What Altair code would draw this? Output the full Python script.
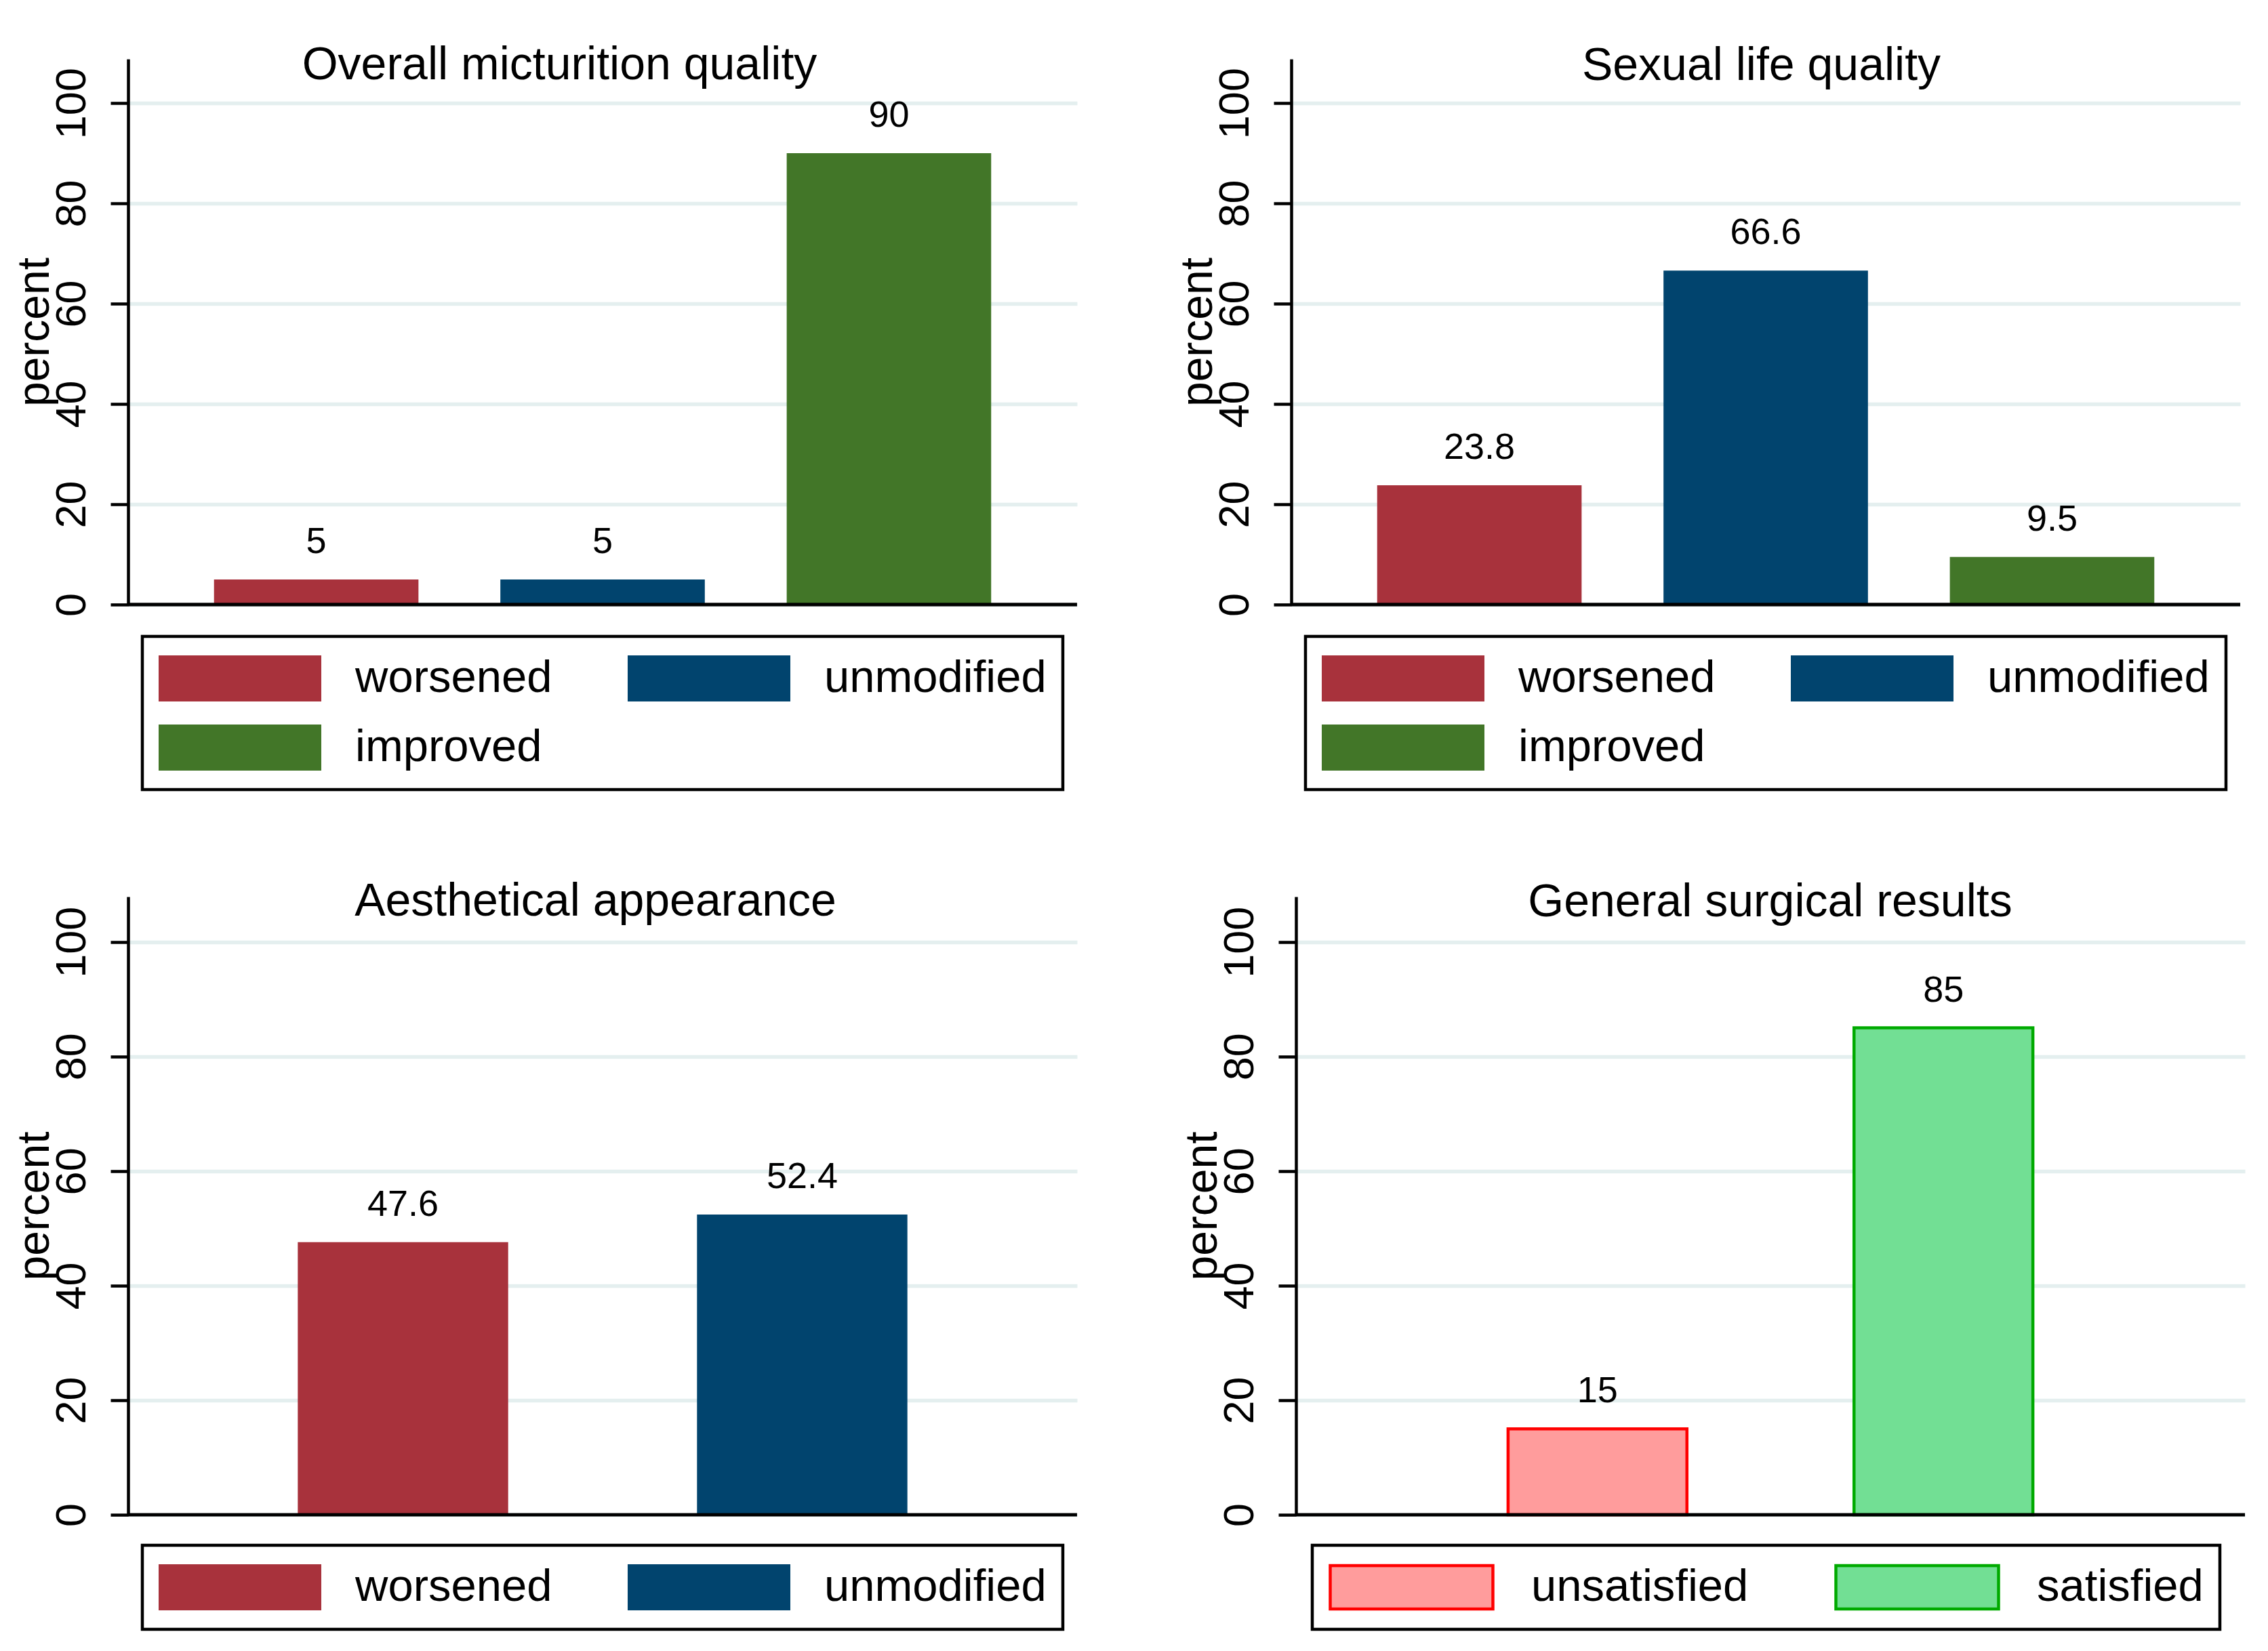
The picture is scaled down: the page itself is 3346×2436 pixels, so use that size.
import altair as alt
import pandas as pd

# ---------------- data ----------------
titles = ["Overall micturition quality", "Sexual life quality",
          "Aesthetical appearance", "General surgical results"]
change3 = ["worsened", "unmodified", "improved"]
micturition_pct = [5, 5, 90]
sexual_pct = [23.8, 66.6, 9.5]
change2 = ["worsened", "unmodified"]
aesthetic_pct = [47.6, 52.4]
satisfaction = ["unsatisfied", "satisfied"]
surgical_pct = [15, 85]
y_ticks = [0, 20, 40, 60, 80, 100]

change_colors = ["#A8323C", "#01446E", "#427628"]
sat_fill = ["#FF9C9C", "#72DF94"]
sat_stroke = ["#FF0000", "#00AA00"]

FONT = "Liberation Sans, Arial, Helvetica, sans-serif"
PLOT_W = 1400
LINE_W = 4.5


def panel(title, cats, vals, fills, strokes=None, *, pin, pout, ymax, h,
          title_dx, title_y, legend_x, legend_y, col_pad, label_offset, sym_r):
    df = pd.DataFrame({"category": cats, "percent": vals,
                       "label": [f"{v:g}" for v in vals]})
    x = alt.X("category:N", sort=cats, title=title,
              scale=alt.Scale(paddingInner=pin, paddingOuter=pout),
              axis=alt.Axis(orient="top", labels=False, ticks=False, grid=False,
                            domain=False, titleFont=FONT, titleFontSize=68,
                            titleFontWeight="normal", titleColor="black",
                            titleAlign="center", titleBaseline="alphabetic",
                            titleX=PLOT_W / 2 + title_dx, titleY=title_y))
    y = alt.Y("percent:Q", title="percent",
              scale=alt.Scale(domain=[0, ymax], nice=False, zero=True),
              axis=alt.Axis(values=y_ticks))
    legend = alt.Legend(
        title=None, orient="none", legendX=legend_x, legendY=legend_y,
        direction="horizontal", columns=2,
        symbolType=f"M-1,-{sym_r}H1V{sym_r}H-1Z", symbolSize=57600,
        symbolStrokeWidth=(LINE_W if strokes else 0), symbolOpacity=1,
        labelFont=FONT, labelFontSize=67, labelColor="black", labelLimit=3000,
        labelOffset=label_offset, columnPadding=col_pad, rowPadding=26,
        padding=24, strokeColor="black", clipHeight=76)
    if strokes:
        bars = alt.Chart(df).mark_bar(strokeWidth=LINE_W).encode(
            x=x, y=y,
            fill=alt.Fill("category:N", scale=alt.Scale(domain=cats, range=fills), legend=legend),
            stroke=alt.Stroke("category:N", scale=alt.Scale(domain=cats, range=strokes), legend=legend),
        )
    else:
        bars = alt.Chart(df).mark_bar().encode(
            x=x, y=y,
            color=alt.Color("category:N", scale=alt.Scale(domain=cats, range=fills), legend=legend),
        )
    text = alt.Chart(df).mark_text(baseline="alphabetic", align="center", dy=-39,
                                   font=FONT, fontSize=54, color="black").encode(
        x=x, y=y, text="label:N")
    baseline = alt.Chart(df).mark_rule(color="black", strokeWidth=LINE_W).encode(
        y=alt.datum(0))
    return alt.layer(bars, text, baseline).properties(width=PLOT_W, height=h)


p1 = panel(titles[0], change3, micturition_pct, change_colors,
           pin=0.286, pout=0.30, ymax=108.8, h=805, title_dx=-64, title_y=29,
           legend_x=21, legend_y=852, col_pad=111, label_offset=50, sym_r=0.283)
p2 = panel(titles[1], change3, sexual_pct, change_colors,
           pin=0.286, pout=0.30, ymax=108.8, h=805, title_dx=-7, title_y=30,
           legend_x=21, legend_y=852, col_pad=111, label_offset=50, sym_r=0.283)
p3 = panel(titles[2], change2, aesthetic_pct, change_colors[:2],
           pin=0.473, pout=0.425, ymax=107.9, h=912, title_dx=-11, title_y=27,
           legend_x=21, legend_y=957, col_pad=111, label_offset=50, sym_r=0.283)
p4 = panel(titles[3], satisfaction, surgical_pct, sat_fill, sat_stroke,
           pin=0.483, pout=0.613, ymax=107.9, h=912, title_dx=-1, title_y=28,
           legend_x=24, legend_y=957, col_pad=126, label_offset=54, sym_r=0.267)

indep = dict(color="independent", fill="independent", stroke="independent")
row1 = alt.hconcat(p1, p2, spacing=142).resolve_scale(**indep).resolve_legend(**indep)
row2 = alt.hconcat(p3, p4, spacing=149).resolve_scale(**indep).resolve_legend(**indep)

chart = alt.vconcat(row1, row2, spacing=128).resolve_scale(**indep).resolve_legend(
    **indep
).properties(
    padding={"left": 10, "top": 54, "right": 10, "bottom": 10},
    background="white",
).configure_view(strokeWidth=0).configure_axisY(
    domainColor="black", domainWidth=LINE_W,
    tickColor="black", tickWidth=LINE_W, tickSize=26,
    labelFont=FONT, labelFontSize=63, labelColor="black", labelAngle=-90,
    labelAlign="center", labelBaseline="alphabetic", labelPadding=38,
    titleFont=FONT, titleFontSize=66, titleFontWeight="normal", titleColor="black",
    titlePadding=-10,
    grid=True, gridColor="#E4EFEF", gridWidth=5.5,
).configure_legend(strokeWidth=LINE_W)

chart.save("out.html", embed_options={"renderer": "svg", "actions": False})
